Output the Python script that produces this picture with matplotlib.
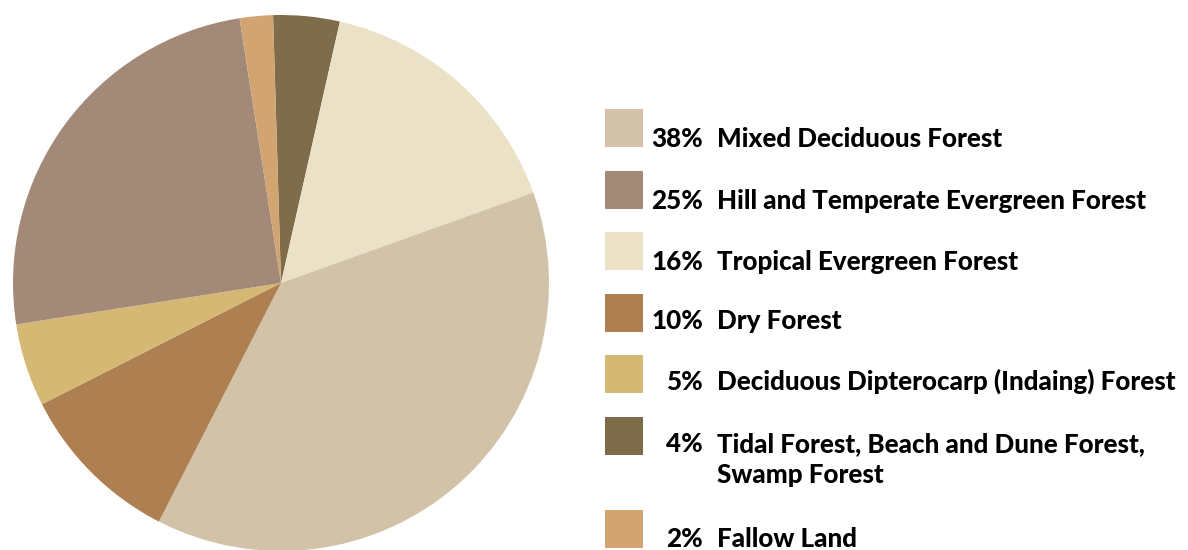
import matplotlib
matplotlib.use("Agg")
import matplotlib.pyplot as plt
from matplotlib.patches import Rectangle

# Legend order
categories = [
    "Mixed Deciduous Forest",
    "Hill and Temperate Evergreen Forest",
    "Tropical Evergreen Forest",
    "Dry Forest",
    "Deciduous Dipterocarp (Indaing) Forest",
    "Tidal Forest, Beach and Dune Forest,\nSwamp Forest",
    "Fallow Land",
]
values = [38, 25, 16, 10, 5, 4, 2]
colors = ["#D1C2A8", "#A38A78", "#EAE1C7", "#AE7F50", "#D5B874", "#7E6C4B", "#D2A472"]
# Order of wedges clockwise around the pie, starting near 12 o'clock
pie_order = [5, 2, 0, 3, 4, 1, 6]

W, H = 1188, 550
fig = plt.figure(figsize=(W / 100, H / 100), dpi=100)

cx, cy, r = 281, 283, 268
ax = fig.add_axes([(cx - r) / W, (H - cy - r) / H, 2 * r / W, 2 * r / H])
ax.pie([values[i] for i in pie_order],
       colors=[colors[i] for i in pie_order],
       startangle=91.7, counterclock=False, radius=1,
       wedgeprops=dict(linewidth=0))
ax.set_xlim(-1, 1)
ax.set_ylim(-1, 1)
ax.set_aspect("equal")
ax.axis("off")

font = dict(family="Lato", weight=900, fontsize=18.7, color="black")
sq_tops = [109, 171, 232, 294, 355, 417, 510]
baselines = [147, 209, 270, 329, 390, 452, 547]
sq_x, sq = 605, 38
for i, (cat, val, col) in enumerate(zip(categories, values, colors)):
    top = sq_tops[i]
    fig.patches.append(Rectangle((sq_x / W, (H - top - sq) / H), sq / W, sq / H,
                                 transform=fig.transFigure, facecolor=col,
                                 edgecolor="none"))
    by = (H - baselines[i]) / H
    fig.text(703 / W, by, f"{val}%", ha="right", va="baseline", **font)
    lines = cat.split("\n")
    for j, ln in enumerate(lines):
        fig.text(717 / W, by - j * 31 / H, ln, ha="left", va="baseline", **font)

fig.savefig("out.png", dpi=100)
